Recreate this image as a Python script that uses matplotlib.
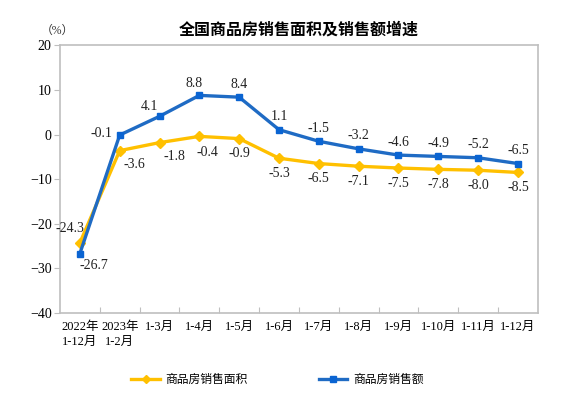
import matplotlib
matplotlib.use('Agg')
import matplotlib.pyplot as plt

plt.rcParams['font.family'] = ['Liberation Serif', 'Noto Sans CJK SC']

# data
categories = ['2022年\n1-12月', '2023年\n1-2月', '1-3月', '1-4月', '1-5月', '1-6月',
              '1-7月', '1-8月', '1-9月', '1-10月', '1-11月', '1-12月']
area_growth = [-24.3, -3.6, -1.8, -0.4, -0.9, -5.3, -6.5, -7.1, -7.5, -7.8, -8.0, -8.5]
sales_growth = [-26.7, -0.1, 4.1, 8.8, 8.4, 1.1, -1.5, -3.2, -4.6, -4.9, -5.2, -6.5]

yellow = '#FFC000'
blue = '#1F6BC4'
gray = '#BFBFBF'

fig = plt.figure(figsize=(5.71, 3.99), dpi=100)
ax = fig.add_axes([0.105, 0.216, 0.837, 0.670])

x = list(range(len(categories)))
ax.plot(x, area_growth, color=yellow, lw=2.4, marker='D', ms=5, mfc=yellow, mec=yellow,
        label='商品房销售面积', zorder=3)
ax.plot(x, sales_growth, color=blue, lw=2.4, marker='s', ms=5, mfc='#0A64D2', mec='#0A64D2',
        label='商品房销售额', zorder=4)

# label offsets in pixels
area_off = {0: (-10, 14), 1: (15, -14), 2: (15, -14), 3: (8, -16)}
sales_off = {0: (14, -12), 1: (-18, 2), 2: (-10, 10), 3: (-5, 12)}
for i, v in enumerate(area_growth):
    dx, dy = area_off.get(i, (0, -15))
    ax.annotate(f'{v:.1f}', (i, v), xytext=(dx, dy), textcoords='offset pixels',
                ha='center', va='center', fontsize=10, color='#222222')
for i, v in enumerate(sales_growth):
    dx, dy = sales_off.get(i, (0, 13))
    ax.annotate(f'{v:.1f}', (i, v), xytext=(dx, dy), textcoords='offset pixels',
                ha='center', va='center', fontsize=10, color='#222222')

ax.set_xlim(-0.5, len(categories) - 0.5)
ax.set_ylim(-40, 20)
ax.set_yticks(range(-40, 21, 10))
ax.tick_params(axis='y', direction='out', length=4, color=gray, labelsize=10, pad=2)

# boundary ticks on the x axis, labels at category centres
ax.set_xticks([i + 0.5 for i in range(len(categories) - 1)])
ax.set_xticklabels([])
ax.tick_params(axis='x', which='major', direction='in', length=4, color=gray)
ax.set_xticks(x, minor=True)
ax.set_xticklabels(categories, minor=True, fontsize=9, linespacing=1.3, va='top')
ax.tick_params(axis='x', which='minor', length=0, pad=6)

for s in ax.spines.values():
    s.set_color(gray)
    s.set_linewidth(1.2)

ax.set_title('全国商品房销售面积及销售额增速', fontsize=11.5, fontweight='bold',
             family=['Noto Sans CJK SC'], pad=8)
fig.text(0.101, 0.922, '（%）', fontsize=8.5, ha='center', va='center', color='#333333')

ax.legend(loc='center', bbox_to_anchor=(0.486, 0.048), bbox_transform=fig.transFigure,
          ncol=2, frameon=False, fontsize=8.5, handlelength=2.4, handletextpad=0.5,
          columnspacing=6, markerscale=0.8)

fig.savefig('out.png', dpi=100)
